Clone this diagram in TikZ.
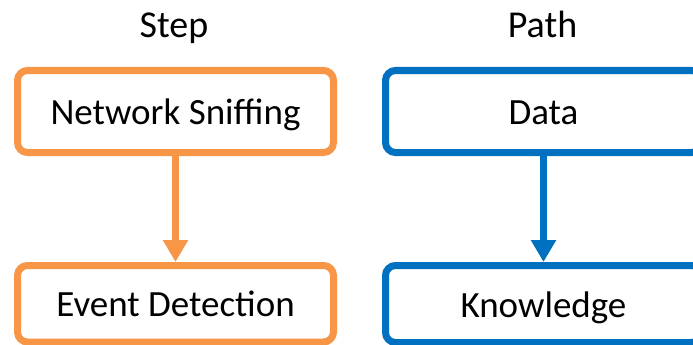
\documentclass[tikz,border=0pt]{standalone}
\usepackage{fontspec}
\setmainfont{Carlito}
\usetikzlibrary{arrows.meta}
\definecolor{orng}{HTML}{F79646}
\definecolor{blu}{HTML}{0070C0}
\begin{document}
\begin{tikzpicture}[x=1pt,y=-1pt,
  box/.style={draw=#1, line width=7pt, rounded corners=10pt, fill=white,
    minimum width=316pt, inner sep=0pt, font=\fontsize{37}{41}\selectfont,
    text height=26pt, text depth=0pt},
  title/.style={anchor=base, font=\fontsize{38}{42}\selectfont},
  link/.style={draw=#1, line width=6.5pt, -{Triangle[width=24pt,length=22pt]}}
]
\useasboundingbox (0,0) rectangle (693,345);
\node[title] (t1) at (174,37.3) {Step};
\node[title] (t2) at (542.5,37.3) {Path};
\node[box=orng, minimum height=82pt] (a) at (175.5,111.5) {Network Sniffing};
\node[box=orng, minimum height=76.5pt] (b) at (175.5,303.75) {Event Detection};
\node[box=blu, minimum height=82pt] (c) at (543.5,111.5) {Data};
\node[box=blu, minimum height=77pt] (d) at (543.5,304) {Knowledge};
\draw[link=orng] (a.south) -- (b.north);
\draw[link=blu] (c.south) -- (d.north);
\end{tikzpicture}
\end{document}
